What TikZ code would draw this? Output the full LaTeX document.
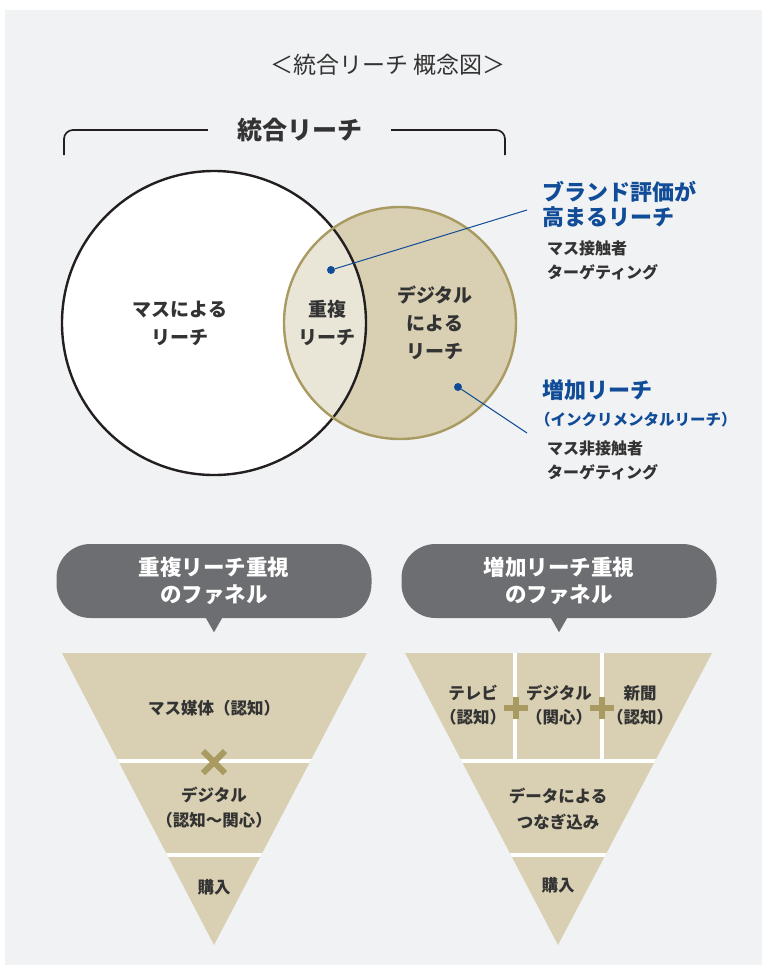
\documentclass[tikz,border=0pt]{standalone}
\usepackage{fontspec}
\setmainfont{Noto Sans CJK JP}
\usetikzlibrary{positioning}
\definecolor{mybg}{HTML}{F1F2F4}
\definecolor{mytan}{HTML}{D9D0B3}
\definecolor{mylens}{HTML}{E9E6D7}
\definecolor{mygold}{HTML}{A99A62}
\definecolor{myblue}{HTML}{104C97}
\definecolor{mypill}{HTML}{6D6E71}
\definecolor{mydark}{HTML}{231F20}
\definecolor{mytext}{HTML}{333333}

\begin{document}
\begin{tikzpicture}[x=1pt, y=-1pt,
	venn/.style={align=center, inner sep=0pt, text=mytext, font=\bfseries\fontsize{19}{28}\selectfont},
	dot/.style={circle, fill=myblue, inner sep=0pt, minimum size=8pt},
	blue/.style={align=left, anchor=west, inner sep=0pt, text=myblue, font=\bfseries\fontsize{22}{25}\selectfont},
	sub/.style={align=left, anchor=west, inner sep=0pt, text=mytext, font=\bfseries\fontsize{16}{24}\selectfont},
	pill/.style={fill=mypill, rounded corners=34pt, minimum width=315pt, minimum height=74pt, text=white, align=center, font=\bfseries\fontsize{21.5}{27}\selectfont},
	fun/.style={align=center, inner sep=0pt, text=mytext, font=\bfseries\fontsize{16.5}{25}\selectfont}]

\useasboundingbox (0,0) rectangle (767,970);
\fill[white] (0,0) rectangle (767,970);
\fill[mybg] (5,10) rectangle (762,965);

%----------TITLE-------------%
\node[text=mytext, font=\fontsize{23}{23}\selectfont] (title) at (388,65) {＜統合リーチ 概念図＞};

\node[text=mytext, font=\bfseries\fontsize{25}{25}\selectfont] (integ) at (300,130) {統合リーチ};
\coordinate (bl) at (64,155);
\coordinate (br) at (505,155);
\draw[mydark, line width=1.7pt, rounded corners=9pt] ([xshift=-26pt]integ.west) -- (bl |- integ) -- (bl);
\draw[mydark, line width=1.7pt, rounded corners=9pt] ([xshift=25pt]integ.east) -- (br |- integ) -- (br);

%----------VENN-------------%
\coordinate (mass) at (214,323);
\coordinate (digi) at (400,323);

\fill[white] (mass) circle (152pt);
\fill[mytan] (digi) circle (116pt);
\begin{scope}
	\clip (digi) circle (116pt);
	\fill[mylens] (mass) circle (152pt);
\end{scope}
\draw[mydark, line width=2.4pt] (mass) circle (152pt);
\draw[mygold, line width=2.4pt] (digi) circle (116pt);

\node[venn] (massreach) at (180,323) {マスによる\\リーチ};
\node[venn] (overlap) at (327,323) {重複\\リーチ};
\node[venn] (digireach) at (435,323) {デジタル\\による\\リーチ};

%----------CALLOUTS-------------%
\node[dot] (d1) at (331,270) {};
\node[dot] (d2) at (458,387) {};
\coordinate (e1) at (527,210);
\coordinate (e2) at (527,433);
\draw[myblue, line width=1pt] (d1) -- (e1);
\draw[myblue, line width=1pt] (d2) -- (e2);

\node[blue] (brand) at (542,204) {ブランド評価が\\高まるリーチ};
\node[sub] (brandsub) at (547,260) {マス接触者\\ターゲティング};
\node[blue] (incr) at (542,390) {増加リーチ};
\node[blue, font=\bfseries\fontsize{15.5}{15.5}\selectfont] (incrsub) at (535,420) {（インクリメンタルリーチ）};
\node[sub] (incrtarget) at (547,460) {マス非接触者\\ターゲティング};

%----------PILLS-------------%
\node[pill] (p1) at (214,581) {重複リーチ重視\\のファネル};
\node[pill] (p2) at (559,581) {増加リーチ重視\\のファネル};
\foreach \p in {p1,p2}{
	\fill[mypill] ([xshift=-8pt]\p.south) -- ([xshift=8pt]\p.south) -- ([yshift=-14pt]\p.south) -- cycle;
};

%----------LEFT FUNNEL-------------%
\fill[mytan] (62,653) -- (367,653) -- (214,945) -- cycle;
\begin{scope}
	\clip (62,653) -- (367,653) -- (214,945) -- cycle;
	\draw[white, line width=4pt] (40,761) -- (400,761);
	\draw[white, line width=4pt] (40,855) -- (400,855);
\end{scope}
\node[fun] (lmass) at (214,708) {マス媒体（認知）};
\node[fun] (ldigi) at (214,808) {デジタル\\（認知〜関心）};
\node[fun] (lbuy) at (214,887) {購入};
\coordinate (cross) at (214,762);
\draw[mygold, line width=6pt] ([shift={(-11pt,-11pt)}]cross) -- ([shift={(11pt,11pt)}]cross);
\draw[mygold, line width=6pt] ([shift={(-11pt,11pt)}]cross) -- ([shift={(11pt,-11pt)}]cross);

%----------RIGHT FUNNEL-------------%
\fill[mytan] (405,653) -- (712,653) -- (558,945) -- cycle;
\begin{scope}
	\clip (405,653) -- (712,653) -- (558,945) -- cycle;
	\draw[white, line width=4pt] (380,761) -- (740,761);
	\draw[white, line width=4pt] (380,855) -- (740,855);
	\draw[white, line width=4pt] (515,640) -- (515,761);
	\draw[white, line width=4pt] (602,640) -- (602,761);
\end{scope}
\node[fun, font=\bfseries\fontsize{16.5}{24}\selectfont] (rtv) at (473,705) {テレビ\\（認知）};
\node[fun, font=\bfseries\fontsize{16.5}{24}\selectfont] (rdigi) at (559,705) {デジタル\\（関心）};
\node[fun, font=\bfseries\fontsize{16.5}{24}\selectfont] (rpaper) at (640,705) {新聞\\（認知）};
\node[fun, font=\bfseries\fontsize{16.5}{26}\selectfont] (rdata) at (558,809) {データによる\\つなぎ込み};
\node[fun] (rbuy) at (558,885) {購入};
\foreach \c in {516,602}{
	\draw[mygold, line width=6pt] (\c-12,708) -- (\c+12,708);
	\draw[mygold, line width=6pt] (\c,697) -- (\c,719);
};

%--------COMMENTS-----------%

\end{tikzpicture}
\end{document}
